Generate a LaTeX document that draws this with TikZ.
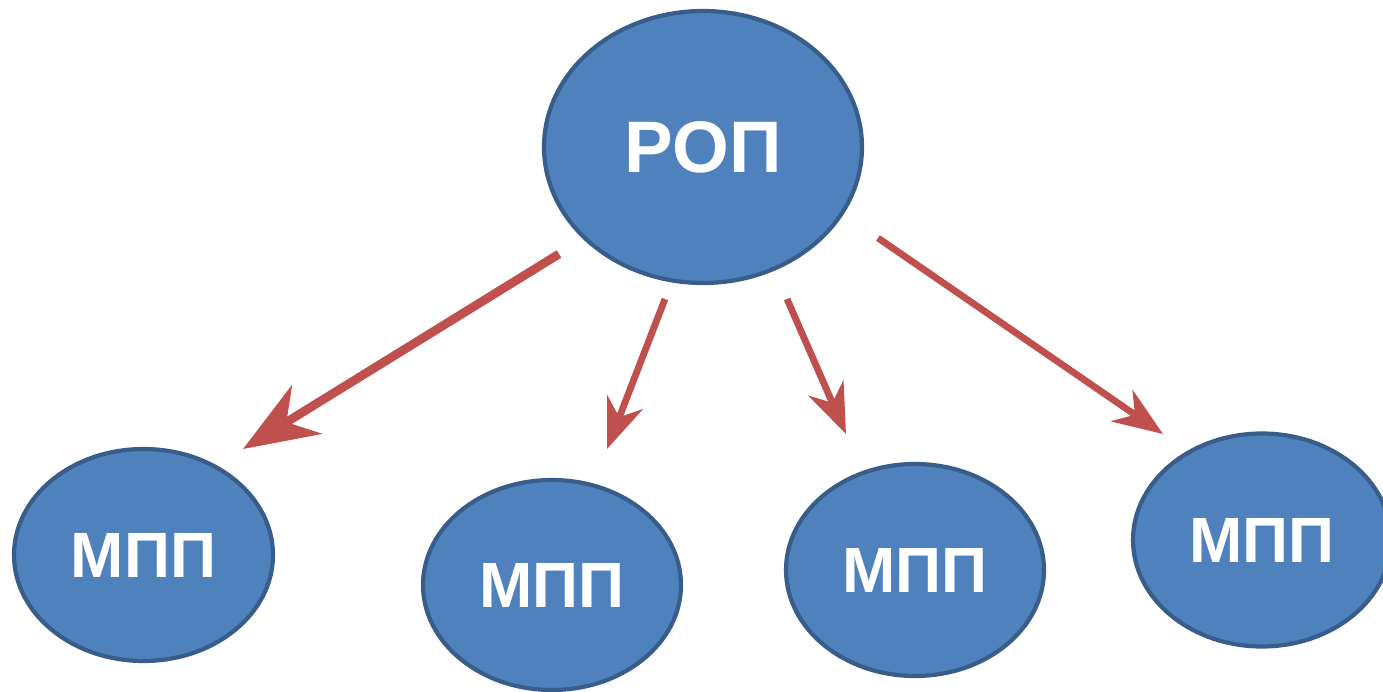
\documentclass[tikz,border=0pt]{standalone}
\usepackage{fontspec}
\setmainfont{Liberation Sans}
\usetikzlibrary{shapes.geometric,arrows.meta}
\definecolor{nodefill}{HTML}{4F81BD}
\definecolor{nodeline}{HTML}{385D8A}
\definecolor{arrowred}{HTML}{C0504D}
\tikzset{
  oval/.style={ellipse, draw=nodeline, line width=4.2pt, fill=nodefill, inner sep=0pt,
    text=white, font=\bfseries\fontsize{64}{66}\selectfont},
  bigoval/.style={oval, font=\bfseries\fontsize{73}{75}\selectfont},
  link/.style={draw=arrowred, line width=6.8pt,
    -{Stealth[length=50pt, width=38pt, inset=16pt, fill=arrowred]}},
  biglink/.style={draw=arrowred, line width=8.8pt,
    -{Stealth[length=75pt, width=57pt, inset=24pt, fill=arrowred]}}
}
\begin{document}
\begin{tikzpicture}[x=1pt,y=-1pt]
\useasboundingbox (0,0) rectangle (1383,692);
\node[bigoval, minimum width=318pt, minimum height=272pt] (rop) at (703,147) {РОП};
\node[oval, minimum width=259pt, minimum height=212pt] (m1) at (143.5,555) {МПП};
\node[oval, minimum width=258pt, minimum height=210pt] (m2) at (552,585) {МПП};
\node[oval, minimum width=258pt, minimum height=212pt] (m3) at (915,570) {МПП};
\node[oval, minimum width=258pt, minimum height=213pt] (m4) at (1262,540) {МПП};
\coordinate (s1) at (559,254);
\coordinate (e1) at (243,449);
\coordinate (s2) at (665,299);
\coordinate (e2) at (607,449);
\coordinate (s3) at (787,299);
\coordinate (e3) at (846,434);
\coordinate (s4) at (878,238);
\coordinate (e4) at (1163,434);
\draw[biglink] (s1) -- (e1);
\draw[link] (s2) -- (e2);
\draw[link] (s3) -- (e3);
\draw[link] (s4) -- (e4);
\end{tikzpicture}
\end{document}
